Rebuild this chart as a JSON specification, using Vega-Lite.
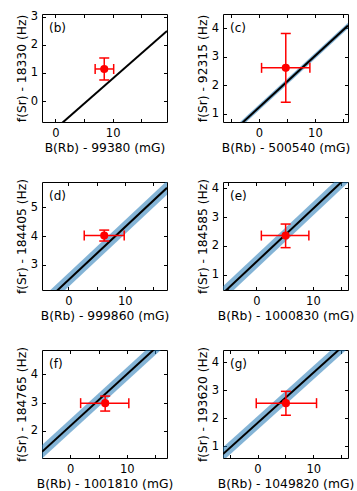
{
  "$schema": "https://vega.github.io/schema/vega-lite/v6.json",
  "background": "white",
  "padding": {"left": 14, "top": 10, "right": 5, "bottom": 2},
  "bounds": "flush",
  "spacing": {"row": 60, "column": 56},
  "columns": 2,
  "config": {
    "font": "DejaVu Sans",
    "view": {"stroke": "black", "strokeWidth": 1},
    "axis": {"domain": false, "grid": false, "tickColor": "black", "tickWidth": 1,
      "labelFontSize": 11.5, "titleFontSize": 12.3, "titleFontWeight": "normal",
      "labelColor": "black", "titleColor": "black", "labelFont": "DejaVu Sans", "titleFont": "DejaVu Sans",
      "labelFlush": false, "labelOverlap": false},
    "axisX": {"labelPadding": 5, "titlePadding": 3},
    "axisY": {"labelPadding": 4.5, "titlePadding": 2}
  },
  "datasets": {
    "lines": [
      {"panel": "b", "x": -2.35, "y": -1.40, "ylo": -1.40, "yhi": -1.40},
      {"panel": "b", "x": 19.5, "y": 2.49, "ylo": 2.49, "yhi": 2.49},
      {"panel": "c", "x": -6.4, "y": 0.072, "ylo": -0.028, "yhi": 0.172},
      {"panel": "c", "x": 15.9, "y": 4.086, "ylo": 3.986, "yhi": 4.186},
      {"panel": "d", "x": -4.7, "y": 1.618, "ylo": 1.378, "yhi": 1.858},
      {"panel": "d", "x": 17.5, "y": 5.68, "ylo": 5.44, "yhi": 5.92},
      {"panel": "e", "x": -5.9, "y": 0.36, "ylo": 0.12, "yhi": 0.60},
      {"panel": "e", "x": 16.2, "y": 4.43, "ylo": 4.19, "yhi": 4.67},
      {"panel": "f", "x": -5.0, "y": 1.26, "ylo": 1.02, "yhi": 1.50},
      {"panel": "f", "x": 17.1, "y": 5.30, "ylo": 5.06, "yhi": 5.54},
      {"panel": "g", "x": -6.2, "y": 0.73, "ylo": 0.49, "yhi": 0.97},
      {"panel": "g", "x": 16.25, "y": 4.73, "ylo": 4.49, "yhi": 4.97}
    ],
    "points": [
      {"panel": "b", "label": "(b)", "x": 8.53, "xlo": 6.94, "xhi": 10.18, "y": 1.14, "ylo": 0.75, "yhi": 1.53},
      {"panel": "c", "label": "(c)", "x": 4.8, "xlo": 0.48, "xhi": 9.1, "y": 2.61, "ylo": 1.41, "yhi": 3.81},
      {"panel": "d", "label": "(d)", "x": 6.35, "xlo": 2.8, "xhi": 9.9, "y": 4.02, "ylo": 3.83, "yhi": 4.21},
      {"panel": "e", "label": "(e)", "x": 5.17, "xlo": 0.88, "xhi": 9.28, "y": 2.36, "ylo": 1.94, "yhi": 2.76},
      {"panel": "f", "label": "(f)", "x": 6.17, "xlo": 1.83, "xhi": 10.35, "y": 2.98, "ylo": 2.70, "yhi": 3.23},
      {"panel": "g", "label": "(g)", "x": 5.1, "xlo": -0.23, "xhi": 10.6, "y": 2.54, "ylo": 2.11, "yhi": 2.96}
    ]
  },
  "concat": [
    {
      "width": 125, "height": 108,
      "layer": [
        {"data": {"name": "lines"}, "transform": [{"filter": "datum.panel === 'b'"}],
         "mark": {"type": "area", "color": "#1f77b4", "opacity": 0.55, "clip": true},
         "encoding": {
           "x": {"field": "x", "type": "quantitative", "scale": {"domain": [-2.35, 19.5], "nice": false, "zero": false},
                 "axis": {"orient": "bottom", "title": "B(Rb) - 99380 (mG)", "values": [0, 10], "ticks": false, "tickSize": 0}},
           "y": {"field": "ylo", "type": "quantitative", "scale": {"domain": [-0.74, 3.09], "nice": false, "zero": false},
                 "axis": {"orient": "left", "title": "f(Sr) - 18330 (Hz)", "values": [0, 1, 2, 3], "ticks": false, "tickSize": 0}},
           "y2": {"field": "yhi"}}},
        {"data": {"name": "lines"}, "transform": [{"filter": "datum.panel === 'b'"}],
         "mark": {"type": "line", "color": "black", "strokeWidth": 2, "clip": true},
         "encoding": {
           "x": {"field": "x", "type": "quantitative", "axis": {"orient": "top", "labels": false, "title": null, "tickSize": -3.5, "values": [0, 5, 10, 15]}},
           "y": {"field": "y", "type": "quantitative", "axis": {"orient": "right", "labels": false, "title": null, "tickSize": -3.5, "values": [0, 1, 2, 3]}}}},
        {"data": {"name": "points"}, "transform": [{"filter": "datum.panel === 'b'"}],
         "mark": {"type": "rule", "color": "red", "strokeWidth": 1.5},
         "encoding": {"x": {"field": "xlo", "type": "quantitative", "axis": {"orient": "bottom", "labels": false, "title": null, "tickSize": -3.5, "values": [0, 5, 10, 15]}}, "x2": {"field": "xhi"},
                      "y": {"field": "y", "type": "quantitative", "axis": {"orient": "left", "labels": false, "title": null, "tickSize": -3.5, "values": [0, 1, 2, 3]}}}},
        {"data": {"name": "points"}, "transform": [{"filter": "datum.panel === 'b'"}],
         "mark": {"type": "rule", "color": "red", "strokeWidth": 1.5},
         "encoding": {"x": {"field": "x", "type": "quantitative", "axis": null}, "y": {"field": "ylo", "type": "quantitative", "axis": null}, "y2": {"field": "yhi"}}},
        {"data": {"name": "points"}, "transform": [{"filter": "datum.panel === 'b'"}, {"fold": ["xlo", "xhi"], "as": ["k", "v"]}],
         "mark": {"type": "tick", "orient": "vertical", "color": "red", "size": 10, "thickness": 1.5, "opacity": 1},
         "encoding": {"x": {"field": "v", "type": "quantitative", "axis": null}, "y": {"field": "y", "type": "quantitative", "axis": null}}},
        {"data": {"name": "points"}, "transform": [{"filter": "datum.panel === 'b'"}, {"fold": ["ylo", "yhi"], "as": ["k", "v"]}],
         "mark": {"type": "tick", "orient": "horizontal", "color": "red", "size": 10, "thickness": 1.5, "opacity": 1},
         "encoding": {"x": {"field": "x", "type": "quantitative", "axis": null}, "y": {"field": "v", "type": "quantitative", "axis": null}}},
        {"data": {"name": "points"}, "transform": [{"filter": "datum.panel === 'b'"}],
         "mark": {"type": "point", "filled": true, "color": "red", "size": 66, "opacity": 1},
         "encoding": {"x": {"field": "x", "type": "quantitative", "axis": null}, "y": {"field": "y", "type": "quantitative", "axis": null}}},
        {"data": {"name": "points"}, "transform": [{"filter": "datum.panel === 'b'"}],
         "mark": {"type": "text", "align": "left", "baseline": "middle", "dx": 7, "dy": 14, "fontSize": 12, "color": "black"},
         "encoding": {"x": {"datum": -2.35, "type": "quantitative", "axis": null}, "y": {"datum": 3.09, "type": "quantitative", "axis": null}, "text": {"field": "label"}}}
      ],
      "resolve": {"axis": {"x": "independent", "y": "independent"}}
    },
    {
      "width": 125, "height": 108,
      "layer": [
        {"data": {"name": "lines"}, "transform": [{"filter": "datum.panel === 'c'"}],
         "mark": {"type": "area", "color": "#1f77b4", "opacity": 0.55, "clip": true},
         "encoding": {
           "x": {"field": "x", "type": "quantitative", "scale": {"domain": [-6.4, 15.9], "nice": false, "zero": false},
                 "axis": {"orient": "bottom", "title": "B(Rb) - 500540 (mG)", "values": [0, 10], "ticks": false, "tickSize": 0}},
           "y": {"field": "ylo", "type": "quantitative", "scale": {"domain": [0.72, 4.49], "nice": false, "zero": false},
                 "axis": {"orient": "left", "title": "f(Sr) - 92315 (Hz)", "values": [1, 2, 3, 4], "ticks": false, "tickSize": 0}},
           "y2": {"field": "yhi"}}},
        {"data": {"name": "lines"}, "transform": [{"filter": "datum.panel === 'c'"}],
         "mark": {"type": "line", "color": "black", "strokeWidth": 2, "clip": true},
         "encoding": {
           "x": {"field": "x", "type": "quantitative", "axis": {"orient": "top", "labels": false, "title": null, "tickSize": -3.5, "values": [-5, 0, 5, 10, 15]}},
           "y": {"field": "y", "type": "quantitative", "axis": {"orient": "right", "labels": false, "title": null, "tickSize": -3.5, "values": [1, 2, 3, 4]}}}},
        {"data": {"name": "points"}, "transform": [{"filter": "datum.panel === 'c'"}],
         "mark": {"type": "rule", "color": "red", "strokeWidth": 1.5},
         "encoding": {"x": {"field": "xlo", "type": "quantitative", "axis": {"orient": "bottom", "labels": false, "title": null, "tickSize": -3.5, "values": [-5, 0, 5, 10, 15]}}, "x2": {"field": "xhi"},
                      "y": {"field": "y", "type": "quantitative", "axis": {"orient": "left", "labels": false, "title": null, "tickSize": -3.5, "values": [1, 2, 3, 4]}}}},
        {"data": {"name": "points"}, "transform": [{"filter": "datum.panel === 'c'"}],
         "mark": {"type": "rule", "color": "red", "strokeWidth": 1.5},
         "encoding": {"x": {"field": "x", "type": "quantitative", "axis": null}, "y": {"field": "ylo", "type": "quantitative", "axis": null}, "y2": {"field": "yhi"}}},
        {"data": {"name": "points"}, "transform": [{"filter": "datum.panel === 'c'"}, {"fold": ["xlo", "xhi"], "as": ["k", "v"]}],
         "mark": {"type": "tick", "orient": "vertical", "color": "red", "size": 10, "thickness": 1.5, "opacity": 1},
         "encoding": {"x": {"field": "v", "type": "quantitative", "axis": null}, "y": {"field": "y", "type": "quantitative", "axis": null}}},
        {"data": {"name": "points"}, "transform": [{"filter": "datum.panel === 'c'"}, {"fold": ["ylo", "yhi"], "as": ["k", "v"]}],
         "mark": {"type": "tick", "orient": "horizontal", "color": "red", "size": 10, "thickness": 1.5, "opacity": 1},
         "encoding": {"x": {"field": "x", "type": "quantitative", "axis": null}, "y": {"field": "v", "type": "quantitative", "axis": null}}},
        {"data": {"name": "points"}, "transform": [{"filter": "datum.panel === 'c'"}],
         "mark": {"type": "point", "filled": true, "color": "red", "size": 66, "opacity": 1},
         "encoding": {"x": {"field": "x", "type": "quantitative", "axis": null}, "y": {"field": "y", "type": "quantitative", "axis": null}}},
        {"data": {"name": "points"}, "transform": [{"filter": "datum.panel === 'c'"}],
         "mark": {"type": "text", "align": "left", "baseline": "middle", "dx": 7, "dy": 14, "fontSize": 12, "color": "black"},
         "encoding": {"x": {"datum": -6.4, "type": "quantitative", "axis": null}, "y": {"datum": 4.49, "type": "quantitative", "axis": null}, "text": {"field": "label"}}}
      ],
      "resolve": {"axis": {"x": "independent", "y": "independent"}}
    },
    {
      "width": 125, "height": 108,
      "layer": [
        {"data": {"name": "lines"}, "transform": [{"filter": "datum.panel === 'd'"}],
         "mark": {"type": "area", "color": "#1f77b4", "opacity": 0.55, "clip": true},
         "encoding": {
           "x": {"field": "x", "type": "quantitative", "scale": {"domain": [-4.7, 17.5], "nice": false, "zero": false},
                 "axis": {"orient": "bottom", "title": "B(Rb) - 999860 (mG)", "values": [0, 10], "ticks": false, "tickSize": 0}},
           "y": {"field": "ylo", "type": "quantitative", "scale": {"domain": [2.13, 5.88], "nice": false, "zero": false},
                 "axis": {"orient": "left", "title": "f(Sr) - 184405 (Hz)", "values": [3, 4, 5], "ticks": false, "tickSize": 0}},
           "y2": {"field": "yhi"}}},
        {"data": {"name": "lines"}, "transform": [{"filter": "datum.panel === 'd'"}],
         "mark": {"type": "line", "color": "black", "strokeWidth": 2, "clip": true},
         "encoding": {
           "x": {"field": "x", "type": "quantitative", "axis": {"orient": "top", "labels": false, "title": null, "tickSize": -3.5, "values": [0, 5, 10, 15]}},
           "y": {"field": "y", "type": "quantitative", "axis": {"orient": "right", "labels": false, "title": null, "tickSize": -3.5, "values": [3, 4, 5]}}}},
        {"data": {"name": "points"}, "transform": [{"filter": "datum.panel === 'd'"}],
         "mark": {"type": "rule", "color": "red", "strokeWidth": 1.5},
         "encoding": {"x": {"field": "xlo", "type": "quantitative", "axis": {"orient": "bottom", "labels": false, "title": null, "tickSize": -3.5, "values": [0, 5, 10, 15]}}, "x2": {"field": "xhi"},
                      "y": {"field": "y", "type": "quantitative", "axis": {"orient": "left", "labels": false, "title": null, "tickSize": -3.5, "values": [3, 4, 5]}}}},
        {"data": {"name": "points"}, "transform": [{"filter": "datum.panel === 'd'"}],
         "mark": {"type": "rule", "color": "red", "strokeWidth": 1.5},
         "encoding": {"x": {"field": "x", "type": "quantitative", "axis": null}, "y": {"field": "ylo", "type": "quantitative", "axis": null}, "y2": {"field": "yhi"}}},
        {"data": {"name": "points"}, "transform": [{"filter": "datum.panel === 'd'"}, {"fold": ["xlo", "xhi"], "as": ["k", "v"]}],
         "mark": {"type": "tick", "orient": "vertical", "color": "red", "size": 10, "thickness": 1.5, "opacity": 1},
         "encoding": {"x": {"field": "v", "type": "quantitative", "axis": null}, "y": {"field": "y", "type": "quantitative", "axis": null}}},
        {"data": {"name": "points"}, "transform": [{"filter": "datum.panel === 'd'"}, {"fold": ["ylo", "yhi"], "as": ["k", "v"]}],
         "mark": {"type": "tick", "orient": "horizontal", "color": "red", "size": 10, "thickness": 1.5, "opacity": 1},
         "encoding": {"x": {"field": "x", "type": "quantitative", "axis": null}, "y": {"field": "v", "type": "quantitative", "axis": null}}},
        {"data": {"name": "points"}, "transform": [{"filter": "datum.panel === 'd'"}],
         "mark": {"type": "point", "filled": true, "color": "red", "size": 66, "opacity": 1},
         "encoding": {"x": {"field": "x", "type": "quantitative", "axis": null}, "y": {"field": "y", "type": "quantitative", "axis": null}}},
        {"data": {"name": "points"}, "transform": [{"filter": "datum.panel === 'd'"}],
         "mark": {"type": "text", "align": "left", "baseline": "middle", "dx": 7, "dy": 14, "fontSize": 12, "color": "black"},
         "encoding": {"x": {"datum": -4.7, "type": "quantitative", "axis": null}, "y": {"datum": 5.88, "type": "quantitative", "axis": null}, "text": {"field": "label"}}}
      ],
      "resolve": {"axis": {"x": "independent", "y": "independent"}}
    },
    {
      "width": 125, "height": 108,
      "layer": [
        {"data": {"name": "lines"}, "transform": [{"filter": "datum.panel === 'e'"}],
         "mark": {"type": "area", "color": "#1f77b4", "opacity": 0.55, "clip": true},
         "encoding": {
           "x": {"field": "x", "type": "quantitative", "scale": {"domain": [-5.9, 16.2], "nice": false, "zero": false},
                 "axis": {"orient": "bottom", "title": "B(Rb) - 1000830 (mG)", "values": [0, 10], "ticks": false, "tickSize": 0}},
           "y": {"field": "ylo", "type": "quantitative", "scale": {"domain": [0.47, 4.22], "nice": false, "zero": false},
                 "axis": {"orient": "left", "title": "f(Sr) - 184585 (Hz)", "values": [1, 2, 3, 4], "ticks": false, "tickSize": 0}},
           "y2": {"field": "yhi"}}},
        {"data": {"name": "lines"}, "transform": [{"filter": "datum.panel === 'e'"}],
         "mark": {"type": "line", "color": "black", "strokeWidth": 2, "clip": true},
         "encoding": {
           "x": {"field": "x", "type": "quantitative", "axis": {"orient": "top", "labels": false, "title": null, "tickSize": -3.5, "values": [-5, 0, 5, 10, 15]}},
           "y": {"field": "y", "type": "quantitative", "axis": {"orient": "right", "labels": false, "title": null, "tickSize": -3.5, "values": [1, 2, 3, 4]}}}},
        {"data": {"name": "points"}, "transform": [{"filter": "datum.panel === 'e'"}],
         "mark": {"type": "rule", "color": "red", "strokeWidth": 1.5},
         "encoding": {"x": {"field": "xlo", "type": "quantitative", "axis": {"orient": "bottom", "labels": false, "title": null, "tickSize": -3.5, "values": [-5, 0, 5, 10, 15]}}, "x2": {"field": "xhi"},
                      "y": {"field": "y", "type": "quantitative", "axis": {"orient": "left", "labels": false, "title": null, "tickSize": -3.5, "values": [1, 2, 3, 4]}}}},
        {"data": {"name": "points"}, "transform": [{"filter": "datum.panel === 'e'"}],
         "mark": {"type": "rule", "color": "red", "strokeWidth": 1.5},
         "encoding": {"x": {"field": "x", "type": "quantitative", "axis": null}, "y": {"field": "ylo", "type": "quantitative", "axis": null}, "y2": {"field": "yhi"}}},
        {"data": {"name": "points"}, "transform": [{"filter": "datum.panel === 'e'"}, {"fold": ["xlo", "xhi"], "as": ["k", "v"]}],
         "mark": {"type": "tick", "orient": "vertical", "color": "red", "size": 10, "thickness": 1.5, "opacity": 1},
         "encoding": {"x": {"field": "v", "type": "quantitative", "axis": null}, "y": {"field": "y", "type": "quantitative", "axis": null}}},
        {"data": {"name": "points"}, "transform": [{"filter": "datum.panel === 'e'"}, {"fold": ["ylo", "yhi"], "as": ["k", "v"]}],
         "mark": {"type": "tick", "orient": "horizontal", "color": "red", "size": 10, "thickness": 1.5, "opacity": 1},
         "encoding": {"x": {"field": "x", "type": "quantitative", "axis": null}, "y": {"field": "v", "type": "quantitative", "axis": null}}},
        {"data": {"name": "points"}, "transform": [{"filter": "datum.panel === 'e'"}],
         "mark": {"type": "point", "filled": true, "color": "red", "size": 66, "opacity": 1},
         "encoding": {"x": {"field": "x", "type": "quantitative", "axis": null}, "y": {"field": "y", "type": "quantitative", "axis": null}}},
        {"data": {"name": "points"}, "transform": [{"filter": "datum.panel === 'e'"}],
         "mark": {"type": "text", "align": "left", "baseline": "middle", "dx": 7, "dy": 14, "fontSize": 12, "color": "black"},
         "encoding": {"x": {"datum": -5.9, "type": "quantitative", "axis": null}, "y": {"datum": 4.22, "type": "quantitative", "axis": null}, "text": {"field": "label"}}}
      ],
      "resolve": {"axis": {"x": "independent", "y": "independent"}}
    },
    {
      "width": 125, "height": 108,
      "layer": [
        {"data": {"name": "lines"}, "transform": [{"filter": "datum.panel === 'f'"}],
         "mark": {"type": "area", "color": "#1f77b4", "opacity": 0.55, "clip": true},
         "encoding": {
           "x": {"field": "x", "type": "quantitative", "scale": {"domain": [-5.0, 17.1], "nice": false, "zero": false},
                 "axis": {"orient": "bottom", "title": "B(Rb) - 1001810 (mG)", "values": [0, 10], "ticks": false, "tickSize": 0}},
           "y": {"field": "ylo", "type": "quantitative", "scale": {"domain": [1.04, 4.86], "nice": false, "zero": false},
                 "axis": {"orient": "left", "title": "f(Sr) - 184765 (Hz)", "values": [2, 3, 4], "ticks": false, "tickSize": 0}},
           "y2": {"field": "yhi"}}},
        {"data": {"name": "lines"}, "transform": [{"filter": "datum.panel === 'f'"}],
         "mark": {"type": "line", "color": "black", "strokeWidth": 2, "clip": true},
         "encoding": {
           "x": {"field": "x", "type": "quantitative", "axis": {"orient": "top", "labels": false, "title": null, "tickSize": -3.5, "values": [0, 5, 10, 15]}},
           "y": {"field": "y", "type": "quantitative", "axis": {"orient": "right", "labels": false, "title": null, "tickSize": -3.5, "values": [2, 3, 4]}}}},
        {"data": {"name": "points"}, "transform": [{"filter": "datum.panel === 'f'"}],
         "mark": {"type": "rule", "color": "red", "strokeWidth": 1.5},
         "encoding": {"x": {"field": "xlo", "type": "quantitative", "axis": {"orient": "bottom", "labels": false, "title": null, "tickSize": -3.5, "values": [0, 5, 10, 15]}}, "x2": {"field": "xhi"},
                      "y": {"field": "y", "type": "quantitative", "axis": {"orient": "left", "labels": false, "title": null, "tickSize": -3.5, "values": [2, 3, 4]}}}},
        {"data": {"name": "points"}, "transform": [{"filter": "datum.panel === 'f'"}],
         "mark": {"type": "rule", "color": "red", "strokeWidth": 1.5},
         "encoding": {"x": {"field": "x", "type": "quantitative", "axis": null}, "y": {"field": "ylo", "type": "quantitative", "axis": null}, "y2": {"field": "yhi"}}},
        {"data": {"name": "points"}, "transform": [{"filter": "datum.panel === 'f'"}, {"fold": ["xlo", "xhi"], "as": ["k", "v"]}],
         "mark": {"type": "tick", "orient": "vertical", "color": "red", "size": 10, "thickness": 1.5, "opacity": 1},
         "encoding": {"x": {"field": "v", "type": "quantitative", "axis": null}, "y": {"field": "y", "type": "quantitative", "axis": null}}},
        {"data": {"name": "points"}, "transform": [{"filter": "datum.panel === 'f'"}, {"fold": ["ylo", "yhi"], "as": ["k", "v"]}],
         "mark": {"type": "tick", "orient": "horizontal", "color": "red", "size": 10, "thickness": 1.5, "opacity": 1},
         "encoding": {"x": {"field": "x", "type": "quantitative", "axis": null}, "y": {"field": "v", "type": "quantitative", "axis": null}}},
        {"data": {"name": "points"}, "transform": [{"filter": "datum.panel === 'f'"}],
         "mark": {"type": "point", "filled": true, "color": "red", "size": 66, "opacity": 1},
         "encoding": {"x": {"field": "x", "type": "quantitative", "axis": null}, "y": {"field": "y", "type": "quantitative", "axis": null}}},
        {"data": {"name": "points"}, "transform": [{"filter": "datum.panel === 'f'"}],
         "mark": {"type": "text", "align": "left", "baseline": "middle", "dx": 7, "dy": 14, "fontSize": 12, "color": "black"},
         "encoding": {"x": {"datum": -5.0, "type": "quantitative", "axis": null}, "y": {"datum": 4.86, "type": "quantitative", "axis": null}, "text": {"field": "label"}}}
      ],
      "resolve": {"axis": {"x": "independent", "y": "independent"}}
    },
    {
      "width": 125, "height": 108,
      "layer": [
        {"data": {"name": "lines"}, "transform": [{"filter": "datum.panel === 'g'"}],
         "mark": {"type": "area", "color": "#1f77b4", "opacity": 0.55, "clip": true},
         "encoding": {
           "x": {"field": "x", "type": "quantitative", "scale": {"domain": [-6.2, 16.25], "nice": false, "zero": false},
                 "axis": {"orient": "bottom", "title": "B(Rb) - 1049820 (mG)", "values": [0, 10], "ticks": false, "tickSize": 0}},
           "y": {"field": "ylo", "type": "quantitative", "scale": {"domain": [0.59, 4.43], "nice": false, "zero": false},
                 "axis": {"orient": "left", "title": "f(Sr) - 193620 (Hz)", "values": [1, 2, 3, 4], "ticks": false, "tickSize": 0}},
           "y2": {"field": "yhi"}}},
        {"data": {"name": "lines"}, "transform": [{"filter": "datum.panel === 'g'"}],
         "mark": {"type": "line", "color": "black", "strokeWidth": 2, "clip": true},
         "encoding": {
           "x": {"field": "x", "type": "quantitative", "axis": {"orient": "top", "labels": false, "title": null, "tickSize": -3.5, "values": [-5, 0, 5, 10, 15]}},
           "y": {"field": "y", "type": "quantitative", "axis": {"orient": "right", "labels": false, "title": null, "tickSize": -3.5, "values": [1, 2, 3, 4]}}}},
        {"data": {"name": "points"}, "transform": [{"filter": "datum.panel === 'g'"}],
         "mark": {"type": "rule", "color": "red", "strokeWidth": 1.5},
         "encoding": {"x": {"field": "xlo", "type": "quantitative", "axis": {"orient": "bottom", "labels": false, "title": null, "tickSize": -3.5, "values": [-5, 0, 5, 10, 15]}}, "x2": {"field": "xhi"},
                      "y": {"field": "y", "type": "quantitative", "axis": {"orient": "left", "labels": false, "title": null, "tickSize": -3.5, "values": [1, 2, 3, 4]}}}},
        {"data": {"name": "points"}, "transform": [{"filter": "datum.panel === 'g'"}],
         "mark": {"type": "rule", "color": "red", "strokeWidth": 1.5},
         "encoding": {"x": {"field": "x", "type": "quantitative", "axis": null}, "y": {"field": "ylo", "type": "quantitative", "axis": null}, "y2": {"field": "yhi"}}},
        {"data": {"name": "points"}, "transform": [{"filter": "datum.panel === 'g'"}, {"fold": ["xlo", "xhi"], "as": ["k", "v"]}],
         "mark": {"type": "tick", "orient": "vertical", "color": "red", "size": 10, "thickness": 1.5, "opacity": 1},
         "encoding": {"x": {"field": "v", "type": "quantitative", "axis": null}, "y": {"field": "y", "type": "quantitative", "axis": null}}},
        {"data": {"name": "points"}, "transform": [{"filter": "datum.panel === 'g'"}, {"fold": ["ylo", "yhi"], "as": ["k", "v"]}],
         "mark": {"type": "tick", "orient": "horizontal", "color": "red", "size": 10, "thickness": 1.5, "opacity": 1},
         "encoding": {"x": {"field": "x", "type": "quantitative", "axis": null}, "y": {"field": "v", "type": "quantitative", "axis": null}}},
        {"data": {"name": "points"}, "transform": [{"filter": "datum.panel === 'g'"}],
         "mark": {"type": "point", "filled": true, "color": "red", "size": 66, "opacity": 1},
         "encoding": {"x": {"field": "x", "type": "quantitative", "axis": null}, "y": {"field": "y", "type": "quantitative", "axis": null}}},
        {"data": {"name": "points"}, "transform": [{"filter": "datum.panel === 'g'"}],
         "mark": {"type": "text", "align": "left", "baseline": "middle", "dx": 7, "dy": 14, "fontSize": 12, "color": "black"},
         "encoding": {"x": {"datum": -6.2, "type": "quantitative", "axis": null}, "y": {"datum": 4.43, "type": "quantitative", "axis": null}, "text": {"field": "label"}}}
      ],
      "resolve": {"axis": {"x": "independent", "y": "independent"}}
    }
  ]
}
